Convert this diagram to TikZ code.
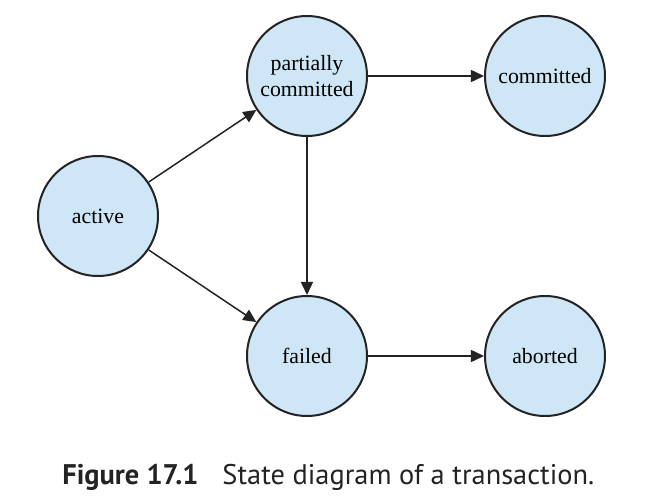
\documentclass[tikz,border=0pt]{standalone}
\usepackage{fontspec}
\setmainfont{Liberation Serif}
\newfontfamily\captionfont{PT Sans}
\usetikzlibrary{matrix,arrows.meta}
\definecolor{statefill}{RGB}{206,230,245}
\definecolor{stateline}{RGB}{35,35,35}
\def\StateGrid{
    \matrix (states)
    [matrix of nodes,
    ampersand replacement=\&,
    column sep={43.5pt},
    row sep={9pt},
    at={(321.5,216)},
    nodes={anchor=center,circle,draw=stateline,line width=1pt,fill=statefill,minimum size=60pt,inner sep=0pt,
           text width=50pt,align=center,font=\fontsize{10.9}{13}\selectfont} ]
    {
            \& partially committed \&[14.5pt] committed \\
     active \&                     \&                   \\
            \& failed              \& aborted           \\
};
}

\begin{document}
\begin{tikzpicture}[x=0.5pt,y=-0.5pt,
    flow/.style={draw=stateline,line width=0.75pt,-{Triangle[length=6.5pt,width=6pt]}}]
    \useasboundingbox (0,0) rectangle (650,498);
    \StateGrid
    \draw[flow] (states-2-1) -- (states-1-2);
    \draw[flow] (states-2-1) -- (states-3-2);
    \draw[flow] (states-1-2) -- (states-1-3);
    \draw[flow] (states-1-2) -- (states-3-2);
    \draw[flow] (states-3-2) -- (states-3-3);
    \node[anchor=base west,inner sep=0pt,text=stateline,font=\captionfont\fontsize{14.2}{17}\selectfont] (caption) at (62,485)
        {\textbf{Figure 17.1}\hspace{12pt}State diagram of a transaction.};
  \end{tikzpicture}
\end{document}
